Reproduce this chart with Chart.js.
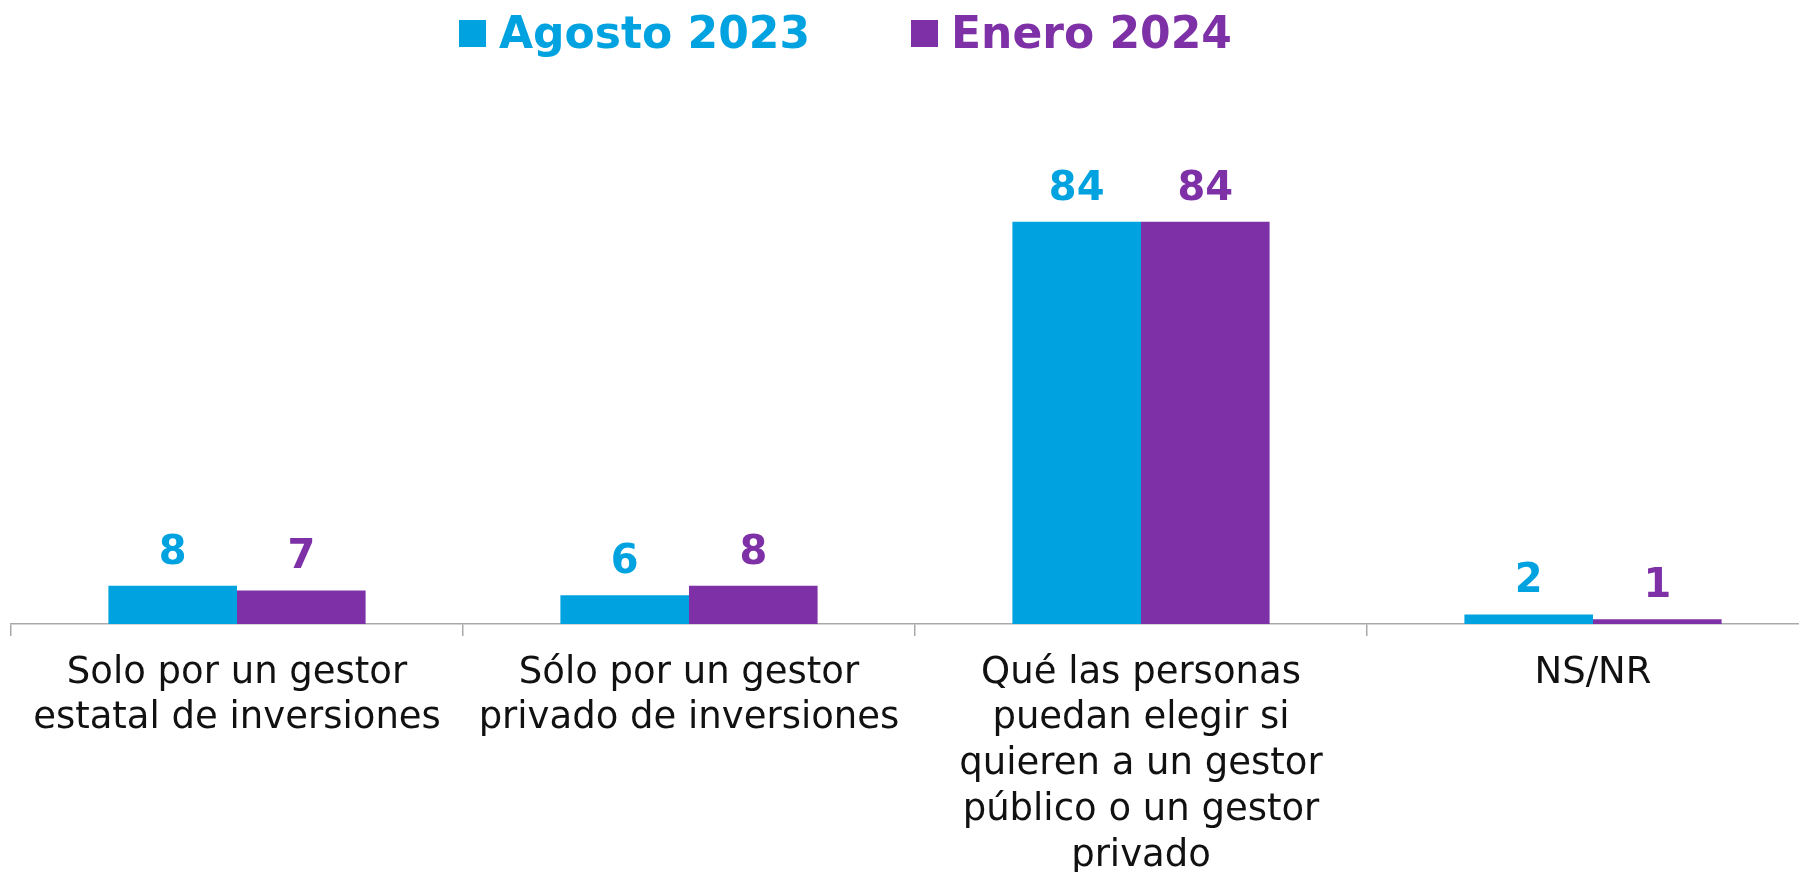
<!DOCTYPE html>
<html lang="es">
  <head>
    <meta charset="UTF-8" />
    <meta name="viewport" content="width=device-width, initial-scale=1.0" />
    <script src="https://cdn.jsdelivr.net/npm/chart.js@4.4.1/dist/chart.umd.min.js"></script>
    <title>Gestor de inversiones</title>
    <style>
      html,
      body {
        margin: 0;
        padding: 0;
        overflow: hidden;
        background-color: #ffffff;
      }

      canvas {
        display: block;
      }
    </style>
  </head>
  <body>
    <canvas id="myChart" width="1820" height="872"></canvas>
    <script>
      const categories = [
        ["Solo por un gestor", "estatal de inversiones"],
        ["Sólo por un gestor", "privado de inversiones"],
        ["Qué las personas", "puedan elegir si", "quieren a un gestor", "público o un gestor", "privado"],
        ["NS/NR"],
      ];
      const seriesNames = ["Agosto 2023", "Enero 2024"];
      const agosto2023 = [8, 6, 84, 2];
      const enero2024 = [7, 8, 84, 1];
      const colors = ["#00A3E0", "#7E31A6"];

      const FONT = '"DejaVu Sans", sans-serif';

      // value labels above each bar
      const barLabels = {
        id: "barLabels",
        afterDatasetsDraw(chart) {
          const ctx = chart.ctx;
          ctx.save();
          ctx.font = "bold 40px " + FONT;
          ctx.textAlign = "center";
          ctx.textBaseline = "alphabetic";
          chart.data.datasets.forEach((ds, i) => {
            chart.getDatasetMeta(i).data.forEach((bar, j) => {
              ctx.fillStyle = ds.backgroundColor;
              ctx.fillText(ds.data[j], bar.x, bar.y - 22);
            });
          });
          ctx.restore();
        },
      };

      // legend row at the top (square + bold label)
      const topLegend = {
        id: "topLegend",
        afterDraw(chart) {
          const ctx = chart.ctx;
          ctx.save();
          ctx.font = "bold 44px " + FONT;
          ctx.textBaseline = "alphabetic";
          let x = 459;
          chart.data.datasets.forEach((ds) => {
            ctx.fillStyle = ds.backgroundColor;
            ctx.fillRect(x, 20, 27, 27);
            x += 27 + 13;
            ctx.fillText(ds.label, x, 48);
            x += ctx.measureText(ds.label).width + 101;
          });
          ctx.restore();
        },
      };

      var ctx = document.getElementById("myChart").getContext("2d");
      var myChart = new Chart(ctx, {
        type: "bar",
        data: {
          labels: categories,
          datasets: [
            {
              label: seriesNames[0],
              data: agosto2023,
              backgroundColor: colors[0],
              barPercentage: 1,
              categoryPercentage: 0.569,
            },
            {
              label: seriesNames[1],
              data: enero2024,
              backgroundColor: colors[1],
              barPercentage: 1,
              categoryPercentage: 0.569,
            },
          ],
        },
        options: {
          responsive: false,
          animation: false,
          layout: {
            padding: { top: 145, left: 11, right: 1, bottom: 0 },
          },
          plugins: {
            legend: { display: false },
            tooltip: { enabled: false },
          },
          scales: {
            x: {
              afterFit(scale) {
                scale.height = 248;
              },
              grid: {
                offset: true,
                drawOnChartArea: false,
                drawTicks: true,
                tickLength: 12,
                color: "#A9A9A9",
                lineWidth: 1.5,
              },
              border: { color: "#A9A9A9", width: 1.5 },
              ticks: {
                autoSkip: false,
                maxRotation: 0,
                padding: 14,
                color: "#111111",
                font: { family: FONT, size: 37, lineHeight: 1.24 },
              },
            },
            y: {
              display: false,
              min: 0,
              max: 100,
            },
          },
        },
        plugins: [barLabels, topLegend],
      });
    </script>
  </body>
</html>
